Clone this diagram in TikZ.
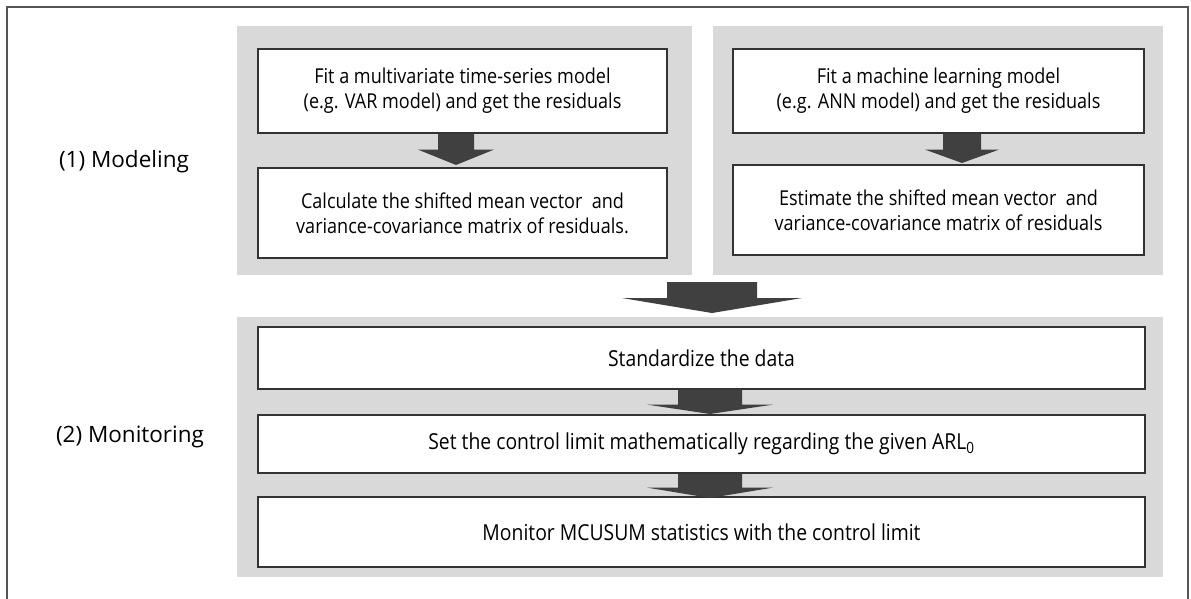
\documentclass[tikz,border=0pt]{standalone}
\usepackage{fontspec}
\setmainfont{Open Sans}[FakeStretch=0.88]
\newfontfamily\widefont{Open Sans}
\usetikzlibrary{calc}
\definecolor{panelgray}{HTML}{D9D9D9}
\definecolor{arrowgray}{HTML}{404040}
\definecolor{linegray}{HTML}{333333}
\definecolor{framegray}{HTML}{555555}
\tikzset{
  panel/.style={fill=panelgray, draw=none, inner sep=0pt},
  stepbox/.style={draw=linegray, line width=1.2pt, fill=white, inner sep=0pt, align=center,
    font=\fontsize{20.5}{25}\selectfont},
  widebox/.style={stepbox, font=\fontsize{22}{25}\selectfont},
  lbl/.style={font=\widefont\fontsize{22.5}{25}\selectfont, inner sep=0pt},
}
\newcommand{\blkarrow}[6]{% start, tip, half shaft, half head, wing offset
  \fill[arrowgray] let \p1=(#1), \p2=(#2) in
    (\x1-#3,\y1) -- (\x1+#3,\y1) -- (\x1+#3,\y1-#5) -- (\x1+#4,\y1-#5) -- (\x2,\y2)
    -- (\x1-#4,\y1-#5) -- (\x1-#3,\y1-#5) -- cycle;}
\begin{document}
\begin{tikzpicture}[x=1pt,y=-1pt]
\useasboundingbox (0,0) rectangle (1191,599);
\clip (0,0) rectangle (1191,599);
\fill[white] (0,0) rectangle (1191,599);
\draw[framegray, line width=1.5pt] (7,7) rectangle (1188,650);

% panels
\node[panel, minimum width=455pt, minimum height=249pt] (panelL) at (464.5,150.5) {};
\node[panel, minimum width=450pt, minimum height=249pt] (panelR) at (938,150.5) {};
\node[panel, minimum width=926pt, minimum height=260pt] (panelB) at (700,447) {};

% labels
\node[lbl] (lab1) at (124,162) {(1) Modeling};
\node[lbl] (lab2) at (130,437) {(2) Monitoring};

% boxes
\node[stepbox, minimum width=409pt, minimum height=84pt] (boxL1) at (462.5,91)
  {Fit a multivariate time-series model\\(e.g. VAR model) and get the residuals};
\node[stepbox, minimum width=409pt, minimum height=90pt] (boxL2) at (462.5,213)
  {Calculate the shifted mean vector~ and\\variance-covariance matrix of residuals.};
\node[stepbox, minimum width=411pt, minimum height=84pt] (boxR1) at (938.5,91)
  {Fit a machine learning model\\(e.g. ANN model) and get the residuals};
\node[stepbox, minimum width=411pt, minimum height=90pt] (boxR2) at (938.5,210)
  {Estimate the shifted mean vector~ and\\variance-covariance matrix of residuals};
\node[widebox, minimum width=887pt, minimum height=62pt] (boxS) at (701.5,358)
  {Standardize the data};
\node[widebox, minimum width=887pt, minimum height=58pt] (boxC) at (701.5,444)
  {Set the control limit mathematically regarding the given ARL\textsubscript{0}};
\node[widebox, minimum width=887pt, minimum height=70pt] (boxM) at (701.5,532)
  {Monitor MCUSUM statistics with the control limit};

% arrow end points
\coordinate (aLs) at (boxL1.south -| 456,0);
\coordinate (aLt) at (456,165);
\coordinate (aRs) at (boxR1.south -| 962,0);
\coordinate (aRt) at (962,163);
\coordinate (bigS) at (712,282);
\coordinate (bigT) at (712,313);
\coordinate (a1s) at (boxS.south -| 710,0);
\coordinate (a1t) at (710,414);
\coordinate (a2s) at (boxC.south -| 710,0);
\coordinate (a2t) at (710,498);

\blkarrow{aLs}{aLt}{18pt}{38pt}{16pt}{}
\blkarrow{aRs}{aRt}{19pt}{37pt}{16pt}{}
\blkarrow{bigS}{bigT}{45pt}{90pt}{16pt}{}
\blkarrow{a1s}{a1t}{32pt}{63pt}{15pt}{}
\blkarrow{a2s}{a2t}{32pt}{63pt}{14pt}{}
\end{tikzpicture}
\end{document}
